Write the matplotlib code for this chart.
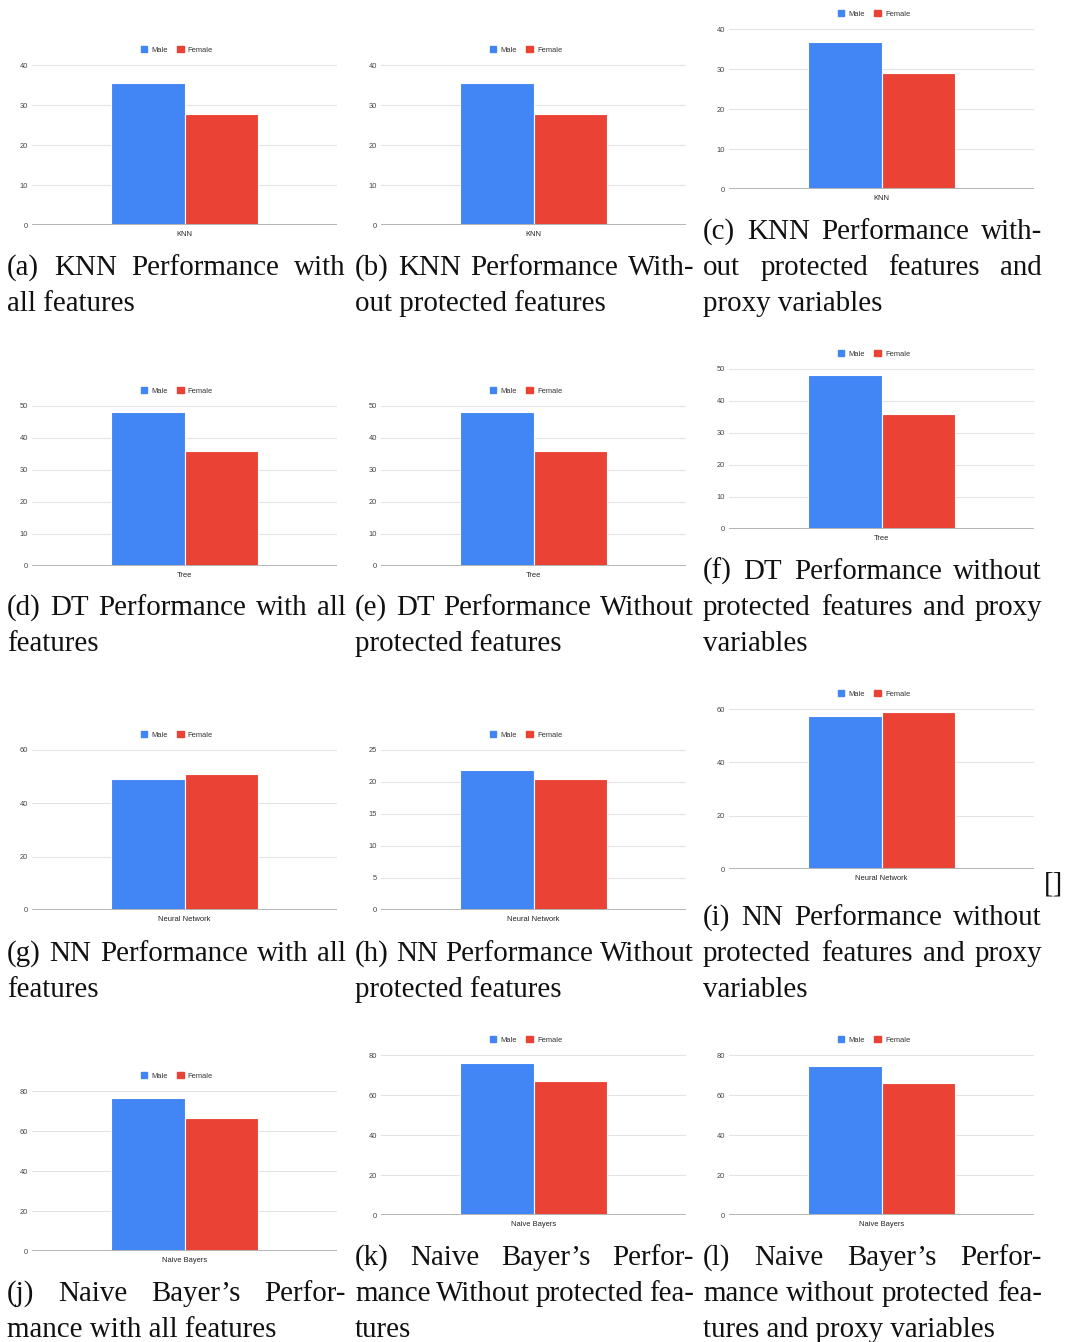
import matplotlib.pyplot as plt
from matplotlib.patches import Patch

# bar values
models = ["KNN", "KNN", "KNN", "Tree", "Tree", "Tree",
          "Neural Network", "Neural Network", "Neural Network",
          "Naive Bayers", "Naive Bayers", "Naive Bayers"]
male = [35.5, 35.5, 36.8, 48.1, 48.1, 48.1, 49.0, 21.9, 57.4, 76.5, 76.0, 74.6]
female = [27.8, 27.8, 29.1, 35.9, 35.9, 35.9, 50.9, 20.4, 58.9, 66.5, 67.2, 66.0]
y_max = [40, 40, 40, 50, 50, 50, 60, 25, 60, 80, 80, 80]
y_step = [10, 10, 10, 10, 10, 10, 20, 5, 20, 20, 20, 20]
series = ["Male", "Female"]

captions = [
    ["(a) KNN Performance with", "all features"],
    ["(b) KNN Performance With-", "out protected features"],
    ["(c) KNN Performance with-", "out protected features and", "proxy variables"],
    ["(d) DT Performance with all", "features"],
    ["(e) DT Performance Without", "protected features"],
    ["(f) DT Performance without", "protected features and proxy", "variables"],
    ["(g) NN Performance with all", "features"],
    ["(h) NN Performance Without", "protected features"],
    ["(i) NN Performance without", "protected features and proxy", "variables"],
    ["(j) Naive Bayer\u2019s Perfor-", "mance with all features"],
    ["(k) Naive Bayer\u2019s Perfor-", "mance Without protected fea-", "tures"],
    ["(l) Naive Bayer\u2019s Perfor-", "mance without protected fea-", "tures and proxy variables"],
]

blue = "#4285f4"
red = "#ea4335"

W, H = 1065, 1342
fig = plt.figure(figsize=(W / 100, H / 100), dpi=100)
renderer = fig.canvas.get_renderer()


def fx(x):
    return x / W


def fy(y):
    return 1 - y / H


# layout in pixels
col_x = [0, 349, 697]
zero_y = [225, 225, 189, 566, 566, 529, 910, 910, 869, 1251, 1215, 1215]
row_base = [311, 651, 997, 1337]
cap_kw = dict(family="Liberation Serif", fontsize=20.9, va="baseline", ha="left", color="#111111")
sans = "Liberation Sans"


def put_line(line, x0, x1, y, justify):
    if not justify:
        fig.text(fx(x0), fy(y), line, **cap_kw)
        return
    words = line.split(" ")
    texts = [fig.text(0, fy(y), w, **cap_kw) for w in words]
    widths = [t.get_window_extent(renderer).width for t in texts]
    gap = (x1 - x0 - sum(widths)) / (len(words) - 1)
    x = x0
    for t, w in zip(texts, widths):
        t.set_x(fx(x))
        x += w + gap


for i in range(12):
    row, col = divmod(i, 3)
    cx = col_x[col]
    z = zero_y[i]

    ax = fig.add_axes([fx(32 + cx), fy(z), 305 / W, 161 / H])
    ax.bar(-0.121, male[i], 0.242, color=blue, edgecolor="white", linewidth=0.8, zorder=2)
    ax.bar(0.121, female[i], 0.242, color=red, edgecolor="white", linewidth=0.8, zorder=2)
    ax.set_xlim(-0.5, 0.5)
    ax.set_ylim(0, y_max[i] * 161 / 160)
    ax.set_yticks(range(0, y_max[i] + 1, y_step[i]))
    ax.set_xticks([0])
    ax.set_xticklabels([models[i]])
    ax.yaxis.grid(True, color="#e3e3e3", linewidth=0.8)
    ax.set_axisbelow(True)
    for s in ax.spines.values():
        s.set_visible(False)
    ax.axhline(0, color="#b5b5b5", linewidth=1.4, zorder=3)
    ax.tick_params(length=0, labelsize=5.4, pad=3, colors="#444444")
    ax.tick_params(axis="x", pad=4, colors="#222222")
    for lab in ax.get_xticklabels() + ax.get_yticklabels():
        lab.set_family(sans)

    handles = [Patch(color=blue), Patch(color=red)]
    leg = ax.legend(handles, series, loc="center", bbox_to_anchor=(0.475, 1 + 14 / 161),
                    ncol=2, frameon=False, fontsize=5.4, handlelength=0.9, handleheight=0.9,
                    columnspacing=1.3, handletextpad=0.5, borderaxespad=0)
    for t in leg.get_texts():
        t.set_family(sans)
        t.set_color("#333333")

    # caption under the chart, justified like latex
    lines = captions[i]
    x0 = 7 + col * 348
    x1 = x0 + 339
    for k, line in enumerate(lines):
        y = row_base[row] - 36 * (len(lines) - 1 - k)
        put_line(line, x0, x1, y, k < len(lines) - 1)

fig.text(fx(1044), fy(891), "[]", **cap_kw)

fig.savefig("out.png", dpi=100)
